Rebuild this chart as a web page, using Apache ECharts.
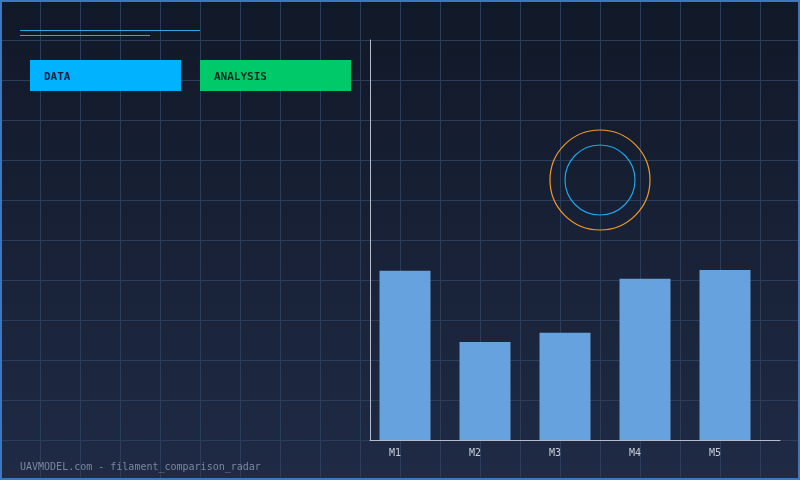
<!DOCTYPE html>
<html>
<head>
<meta charset="utf-8">
<script src="https://cdn.jsdelivr.net/npm/echarts@6/dist/echarts.min.js"></script>
<style>
  html, body { margin: 0; padding: 0; background: #111827; }
  #chart { width: 800px; height: 480px; }
</style>
</head>
<body>
<div id="chart"></div>
<script>
// bar categories and values (scale 0-100)
const categories = ["M1", "M2", "M3", "M4", "M5"];
const values = [42.3, 24.5, 26.8, 40.3, 42.5];
const buttonLabels = ["DATA", "ANALYSIS"];
const footerText = "UAVMODEL.com - filament_comparison_radar";

const mono = "'DejaVu Sans Mono', 'Liberation Mono', monospace";

const chart = echarts.init(document.getElementById("chart"));

const option = {
  backgroundColor: new echarts.graphic.LinearGradient(0, 0, 0, 1, [
    { offset: 0, color: "#111827" },
    { offset: 1, color: "#1f2a45" },
  ]),
  animation: false,
  grid: [
    // background grid lines, every 40px
    { left: 0, right: 0, top: 0, bottom: 0 },
    // bars
    { left: 365, top: 40, width: 400, height: 400 },
    // axis lines
    { left: 370, top: 40, right: 20, bottom: 40 },
  ],
  xAxis: [
    {
      gridIndex: 0, type: "value", min: 0, max: 800, interval: 40,
      axisLine: { show: false }, axisTick: { show: false }, axisLabel: { show: false },
      splitLine: { show: true, lineStyle: { color: "#2b3d5a", width: 1 } },
    },
    {
      gridIndex: 1, type: "category", data: categories,
      axisLine: { show: false }, axisTick: { show: false },
      axisLabel: {
        color: "#c5cedb", fontFamily: mono, fontSize: 10, margin: 8,
        padding: [0, 20, 0, 0],
      },
    },
    {
      gridIndex: 2, type: "value", min: 0, max: 1,
      axisLine: { show: true, onZero: false, lineStyle: { color: "#b4bccb", width: 1 } },
      axisTick: { show: false }, axisLabel: { show: false }, splitLine: { show: false },
    },
  ],
  yAxis: [
    {
      gridIndex: 0, type: "value", min: 0, max: 480, interval: 40, inverse: true,
      axisLine: { show: false }, axisTick: { show: false }, axisLabel: { show: false },
      splitLine: { show: true, lineStyle: { color: "#2b3d5a", width: 1 } },
    },
    {
      gridIndex: 1, type: "value", min: 0, max: 100,
      axisLine: { show: false }, axisTick: { show: false }, axisLabel: { show: false },
      splitLine: { show: false },
    },
    {
      gridIndex: 2, type: "value", min: 0, max: 1,
      axisLine: { show: true, onZero: false, lineStyle: { color: "#b4bccb", width: 1 } },
      axisTick: { show: false }, axisLabel: { show: false }, splitLine: { show: false },
    },
  ],
  series: [
    {
      type: "bar",
      xAxisIndex: 1,
      yAxisIndex: 1,
      data: values,
      barWidth: 51,
      itemStyle: { color: "#66a2dd" },
    },
  ],
  graphic: [
    // header lines
    { type: "line", z: 10, shape: { x1: 20, y1: 30.5, x2: 200, y2: 30.5 }, style: { stroke: "#29a9e6", lineWidth: 1 } },
    { type: "line", z: 10, shape: { x1: 20, y1: 35.5, x2: 150, y2: 35.5 }, style: { stroke: "#22c55e", lineWidth: 1 } },
    // buttons
    { type: "rect", z: 10, shape: { x: 30, y: 60, width: 151, height: 31 }, style: { fill: "#00b2ff" } },
    { type: "rect", z: 10, shape: { x: 200, y: 60, width: 151, height: 31 }, style: { fill: "#00c96a" } },
    {
      type: "text", z: 11, x: 44, y: 77,
      style: { text: buttonLabels[0], fill: "#0c1f3a", font: "bold 11px " + mono, textVerticalAlign: "middle" },
    },
    {
      type: "text", z: 11, x: 214, y: 77,
      style: { text: buttonLabels[1], fill: "#0c2a1c", font: "bold 11px " + mono, textVerticalAlign: "middle" },
    },
    // rings
    { type: "circle", z: 10, shape: { cx: 600, cy: 180, r: 50 }, style: { fill: "none", stroke: "#f39a2a", lineWidth: 1.2 } },
    { type: "circle", z: 10, shape: { cx: 600, cy: 180, r: 35 }, style: { fill: "none", stroke: "#1fa6e8", lineWidth: 1.2 } },
    // footer
    {
      type: "text", z: 10, x: 20, y: 467,
      style: { text: footerText, fill: "#7b889f", font: "10px " + mono, textVerticalAlign: "middle" },
    },
    // frame
    { type: "rect", shape: { x: 1, y: 1, width: 798, height: 478 }, style: { fill: "none", stroke: "#3a78c2", lineWidth: 2 }, z: 100 },
  ],
};

chart.setOption(option);
</script>
</body>
</html>
